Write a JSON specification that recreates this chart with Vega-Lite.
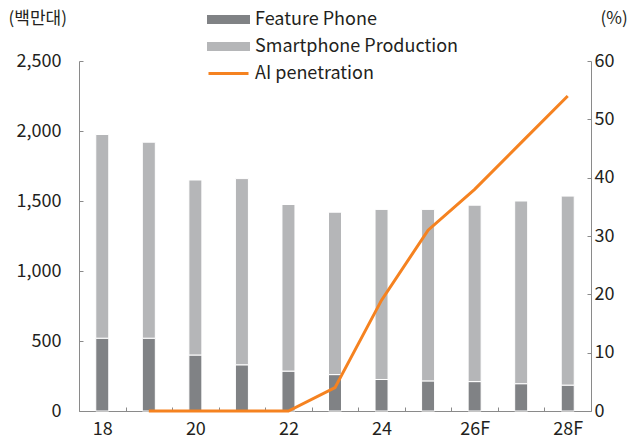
{
  "$schema": "https://vega.github.io/schema/vega-lite/v6.json",
  "width": 512,
  "height": 350,
  "autosize": {"type": "none"},
  "padding": {"left": 79, "top": 61, "right": 42, "bottom": 32},
  "background": "white",
  "config": {
    "font": "Noto Sans CJK KR",
    "view": {"stroke": null},
    "legend": {"rowPadding": 2, "clipHeight": 25, "symbolSize": 1600, "labelFontSize": 18, "labelLimit": 400, "labelOffset": 5, "labelColor": "#231f20"},
    "axis": {"grid": false, "domainColor": "#8a8a8a", "tickColor": "#8a8a8a", "labelColor": "#231f20", "titleColor": "#231f20", "labelFontSize": 18, "titleFontSize": 17, "titleFontWeight": "normal", "labelFont": "Noto Sans CJK KR", "titleFont": "Noto Sans CJK KR"}
  },
  "datasets": {
    "bars": [
      {"year": "18", "type": "Feature Phone", "ord": 1, "value": 520},
      {"year": "18", "type": "Smartphone Production", "ord": 2, "value": 1455},
      {"year": "19", "type": "Feature Phone", "ord": 1, "value": 520},
      {"year": "19", "type": "Smartphone Production", "ord": 2, "value": 1400},
      {"year": "20", "type": "Feature Phone", "ord": 1, "value": 400},
      {"year": "20", "type": "Smartphone Production", "ord": 2, "value": 1250},
      {"year": "21", "type": "Feature Phone", "ord": 1, "value": 330},
      {"year": "21", "type": "Smartphone Production", "ord": 2, "value": 1330},
      {"year": "22", "type": "Feature Phone", "ord": 1, "value": 285},
      {"year": "22", "type": "Smartphone Production", "ord": 2, "value": 1190},
      {"year": "23", "type": "Feature Phone", "ord": 1, "value": 260},
      {"year": "23", "type": "Smartphone Production", "ord": 2, "value": 1160},
      {"year": "24", "type": "Feature Phone", "ord": 1, "value": 225},
      {"year": "24", "type": "Smartphone Production", "ord": 2, "value": 1215},
      {"year": "25", "type": "Feature Phone", "ord": 1, "value": 215},
      {"year": "25", "type": "Smartphone Production", "ord": 2, "value": 1225},
      {"year": "26F", "type": "Feature Phone", "ord": 1, "value": 210},
      {"year": "26F", "type": "Smartphone Production", "ord": 2, "value": 1260},
      {"year": "27F", "type": "Feature Phone", "ord": 1, "value": 195},
      {"year": "27F", "type": "Smartphone Production", "ord": 2, "value": 1305},
      {"year": "28F", "type": "Feature Phone", "ord": 1, "value": 185},
      {"year": "28F", "type": "Smartphone Production", "ord": 2, "value": 1350}
    ],
    "ai": [
      {"year": "19", "series": "AI penetration", "pct": 0},
      {"year": "20", "series": "AI penetration", "pct": 0},
      {"year": "21", "series": "AI penetration", "pct": 0},
      {"year": "22", "series": "AI penetration", "pct": 0},
      {"year": "23", "series": "AI penetration", "pct": 4},
      {"year": "24", "series": "AI penetration", "pct": 19},
      {"year": "25", "series": "AI penetration", "pct": 31},
      {"year": "26F", "series": "AI penetration", "pct": 38},
      {"year": "27F", "series": "AI penetration", "pct": 46},
      {"year": "28F", "series": "AI penetration", "pct": 54}
    ]
  },
  "encoding": {
    "x": {
      "field": "year", "type": "ordinal", "sort": null,
      "scale": {"domain": ["18","19","20","21","22","23","24","25","26F","27F","28F"], "paddingInner": 0, "paddingOuter": 0},
      "axis": {"title": null, "labelAngle": 0, "tickBand": "extent", "tickSize": -4, "labelPadding": 13,
        "labelExpr": "indexof(['18','20','22','24','26F','28F'], datum.value) >= 0 ? datum.label : ''"}
    }
  },
  "layer": [
    {
      "data": {"name": "bars"},
      "mark": {"type": "bar", "size": 13, "stroke": "white", "strokeWidth": 1},
      "encoding": {
        "y": {"field": "value", "type": "quantitative", "stack": "zero",
          "scale": {"domain": [0, 2500]},
          "axis": {"title": "(백만대)", "titleAngle": 0, "titleAlign": "left", "titleBaseline": "middle", "titleX": -71, "titleY": -43,
            "values": [0, 500, 1000, 1500, 2000, 2500], "format": ",.0f", "tickSize": -4, "labelPadding": 22}},
        "order": {"field": "ord", "type": "quantitative"},
        "color": {"field": "type", "type": "nominal",
          "scale": {"domain": ["Feature Phone", "Smartphone Production", "AI penetration"], "range": ["#808285", "#b5b6b8", "#f58220"]},
          "legend": {"title": null, "orient": "none", "legendX": 128, "legendY": -54, "symbolType": "stroke", "symbolSize": 1600,
            "labelFontSize": 18, "labelColor": "#231f20", "labelLimit": 400, "rowPadding": 2, "clipHeight": 25, "labelOffset": 5,
            "encode": {"symbols": {"update": {
              "shape": {"signal": "datum.value === 'AI penetration' ? 'M-1,0L1,0' : 'M-1,-0.15L1,-0.15L1,0.15L-1,0.15Z'"},
              "stroke": {"signal": "datum.value === 'AI penetration' ? scale('color', datum.value) : 'transparent'"},
              "strokeWidth": {"value": 3},
              "fill": {"signal": "datum.value === 'AI penetration' ? 'transparent' : scale('color', datum.value)"},
              "opacity": {"value": 1}
            }}}}}
      }
    },
    {
      "data": {"name": "ai"},
      "mark": {"type": "line", "strokeWidth": 3},
      "encoding": {
        "y": {"field": "pct", "type": "quantitative",
          "scale": {"domain": [0, 60]},
          "axis": {"orient": "right", "title": "(%)", "titleAngle": 0, "titleAlign": "left", "titleBaseline": "middle", "titleX": 9, "titleY": -43,
            "values": [0, 10, 20, 30, 40, 50, 60], "tickSize": -4, "labelPadding": 7}},
        "color": {"field": "series", "type": "nominal",
          "legend": {"title": null, "orient": "none", "legendX": 128, "legendY": -54, "symbolType": "stroke", "symbolSize": 1600,
            "labelFontSize": 18, "labelColor": "#231f20", "labelLimit": 400, "rowPadding": 2, "clipHeight": 25, "labelOffset": 5,
            "encode": {"symbols": {"update": {
              "shape": {"signal": "datum.value === 'AI penetration' ? 'M-1,0L1,0' : 'M-1,-0.15L1,-0.15L1,0.15L-1,0.15Z'"},
              "stroke": {"signal": "datum.value === 'AI penetration' ? scale('color', datum.value) : 'transparent'"},
              "strokeWidth": {"value": 3},
              "fill": {"signal": "datum.value === 'AI penetration' ? 'transparent' : scale('color', datum.value)"},
              "opacity": {"value": 1}
            }}}}}
      }
    }
  ],
  "resolve": {"scale": {"y": "independent", "color": "shared"}}
}
